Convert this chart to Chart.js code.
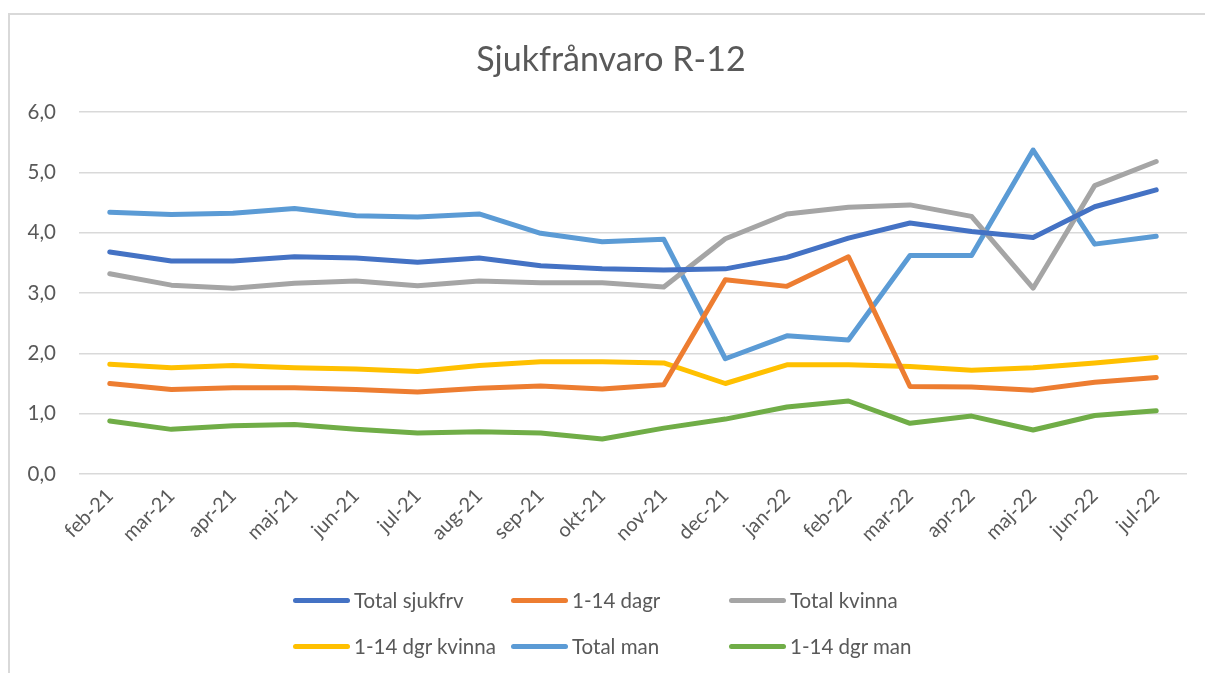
<!DOCTYPE html>
<html lang="sv">

<head>
  <title>Sjukfrånvaro R-12</title>
  <meta charset="UTF-8">
  <script src="https://cdn.jsdelivr.net/npm/chart.js"></script>
  <style>
    html, body { margin: 0; padding: 0; background: #fff; overflow: hidden; }
    .ram { position: absolute; left: 8px; top: 13px; width: 1400px; height: 900px; border: 2px solid #d9d9d9; }
    #chart { position: absolute; left: 0; top: 0; }
    .rubrik { position: absolute; left: 0; top: 38px; width: 1222px; text-align: center; line-height: 40px; font-family: Lato, sans-serif; font-size: 34px; color: #595959; }
    .leg { position: absolute; display: flex; align-items: center; font-family: Lato, sans-serif; font-size: 20.5px; color: #595959; white-space: nowrap; }
    .leg span.streck { display: inline-block; width: 57px; height: 5px; border-radius: 3px; margin-right: 4px; }
  </style>
</head>

<body>
  <div class="ram"></div>
  <canvas id="chart" width="1205" height="673"></canvas>
  <div class="rubrik">Sjukfrånvaro R-12</div>
  <div id="legend"></div>
</body>

<script>
  const manader = ['feb-21', 'mar-21', 'apr-21', 'maj-21', 'jun-21', 'jul-21', 'aug-21', 'sep-21', 'okt-21',
    'nov-21', 'dec-21', 'jan-22', 'feb-22', 'mar-22', 'apr-22', 'maj-22', 'jun-22', 'jul-22'];

  const totalSjukfrv = [3.68, 3.53, 3.53, 3.60, 3.58, 3.51, 3.58, 3.45, 3.40, 3.38, 3.40, 3.59, 3.91, 4.16, 4.02, 3.92, 4.43, 4.71];
  const dagr1_14 = [1.50, 1.40, 1.43, 1.43, 1.40, 1.36, 1.42, 1.46, 1.41, 1.48, 3.22, 3.11, 3.60, 1.45, 1.44, 1.39, 1.52, 1.60];
  const totalKvinna = [3.32, 3.13, 3.08, 3.16, 3.20, 3.12, 3.20, 3.17, 3.17, 3.10, 3.90, 4.31, 4.42, 4.46, 4.27, 3.08, 4.78, 5.18];
  const dgrKvinna = [1.82, 1.76, 1.80, 1.76, 1.74, 1.70, 1.80, 1.86, 1.86, 1.84, 1.50, 1.81, 1.81, 1.78, 1.72, 1.76, 1.84, 1.93];
  const totalMan = [4.34, 4.30, 4.32, 4.40, 4.28, 4.26, 4.31, 3.99, 3.85, 3.89, 1.91, 2.29, 2.22, 3.62, 3.62, 5.37, 3.81, 3.94];
  const dgrMan = [0.88, 0.74, 0.80, 0.82, 0.74, 0.68, 0.70, 0.68, 0.58, 0.76, 0.91, 1.11, 1.21, 0.84, 0.96, 0.73, 0.97, 1.05];

  const yTicks = [0, 1, 2, 3, 4, 5, 6];

  const serier = [
    { namn: 'Total sjukfrv', data: totalSjukfrv, farg: '#4472C4' },
    { namn: '1-14 dagr', data: dagr1_14, farg: '#ED7D31' },
    { namn: 'Total kvinna', data: totalKvinna, farg: '#A5A5A5' },
    { namn: '1-14 dgr kvinna', data: dgrKvinna, farg: '#FFC000' },
    { namn: 'Total man', data: totalMan, farg: '#5B9BD5' },
    { namn: '1-14 dgr man', data: dgrMan, farg: '#70AD47' }
  ];

  const textFarg = '#595959';
  const fontFamilj = 'Lato, sans-serif';

  // legenden i två rader som i Excel
  const legPos = [[293, 600], [511, 600], [729, 600], [293, 646], [511, 646], [729, 646]];
  const legend = document.getElementById('legend');
  serier.forEach(function (s, i) {
    const div = document.createElement('div');
    div.className = 'leg';
    div.style.left = legPos[i][0] + 'px';
    div.style.top = (legPos[i][1] - 12) + 'px';
    div.style.height = '24px';
    div.innerHTML = '<span class="streck" style="background:' + s.farg + '"></span>' + s.namn;
    legend.appendChild(div);
  });

  const config = {
    type: 'line',
    data: {
      labels: manader,
      datasets: serier.map(function (s) {
        return {
          label: s.namn,
          data: s.data,
          borderColor: s.farg,
          backgroundColor: s.farg,
          borderWidth: 5,
          borderCapStyle: 'round',
          borderJoinStyle: 'round',
          pointRadius: 0,
          tension: 0,
          fill: false
        };
      })
    },
    options: {
      responsive: false,
      animation: false,
      layout: { padding: { left: 0, right: 18, top: 112, bottom: 99 } },
      plugins: {
        legend: { display: false },
        tooltip: { enabled: false },
        title: { display: false }
      },
      scales: {
        x: {
          offset: true,
          grid: { display: false, drawTicks: false },
          border: { display: false },
          ticks: {
            color: textFarg,
            font: { family: fontFamilj, size: 20 },
            autoSkip: false,
            minRotation: 45,
            maxRotation: 45,
            padding: 10
          },
          afterFit: function (scale) { scale.height = 100; }
        },
        y: {
          min: 0,
          max: 6,
          afterBuildTicks: function (scale) {
            scale.ticks = yTicks.map(function (v) { return { value: v }; });
          },
          grid: { color: '#d9d9d9', lineWidth: 1.5, drawTicks: false },
          border: { display: false },
          ticks: {
            color: textFarg,
            font: { family: fontFamilj, size: 20.5 },
            padding: 23,
            callback: function (v) { return v.toFixed(1).replace('.', ','); }
          },
          afterFit: function (scale) { scale.width = 79; }
        }
      }
    }
  };

  const myChart = new Chart(document.getElementById('chart'), config);
</script>

</html>
